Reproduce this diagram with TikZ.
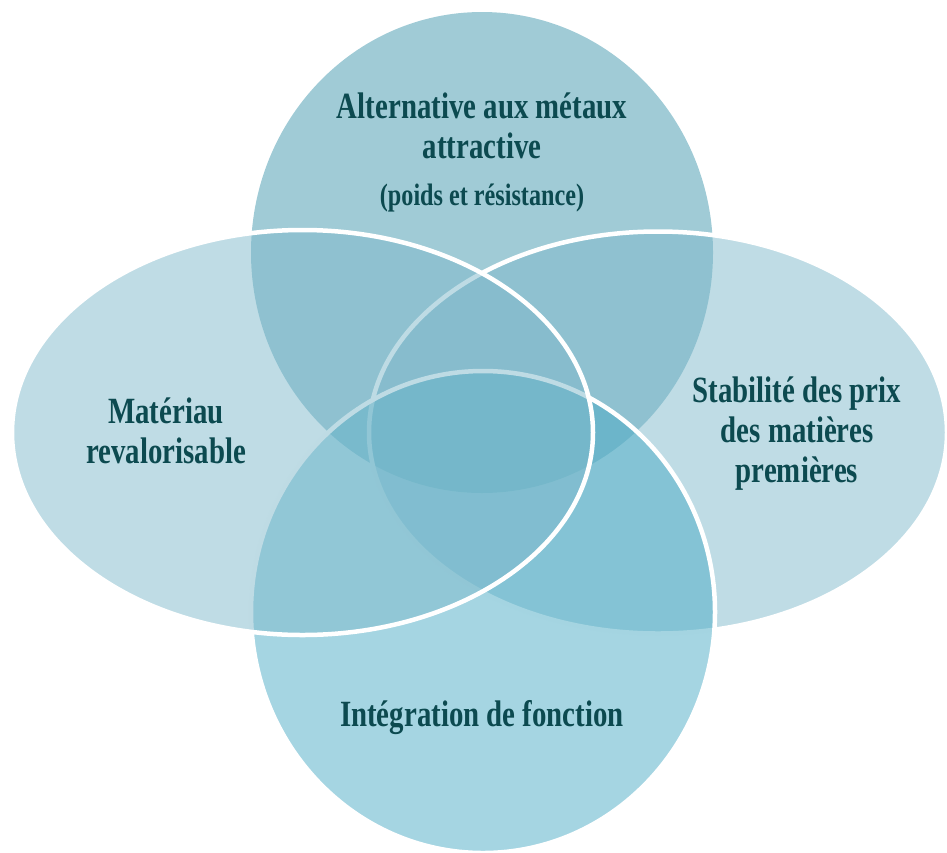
\documentclass[tikz,border=0pt]{standalone}
\usepackage{fontspec}
\setmainfont[FakeStretch=0.78]{Liberation Serif}
\usetikzlibrary{shapes.geometric}
\definecolor{ctop}{RGB}{65,151,173}
\definecolor{cside}{RGB}{127,185,203}
\definecolor{cbot}{RGB}{75,171,197}
\definecolor{txt}{RGB}{12,74,80}
\begin{document}
\begin{tikzpicture}[x=1pt,y=-1pt,
  venn/.style={ellipse, inner sep=0pt, outer sep=0pt, fill opacity=0.5, draw opacity=1},
  rim/.style={draw=white, line width=4.5pt},
  lbl/.style={font=\fontsize{37}{40}\selectfont\bfseries, text=txt, align=center, anchor=base, inner sep=0pt},
  sublbl/.style={font=\fontsize{31}{36}\selectfont\bfseries, text=txt, align=center, anchor=base, inner sep=0pt}]
\useasboundingbox (0,0) rectangle (947,852);
% shapes, in drawing order
\node[venn, fill=ctop, minimum width=462pt, minimum height=481pt] (ctopshape) at (482,252.5) {};
\node[venn, rim, fill=cside, minimum width=578pt, minimum height=402pt] (crightshape) at (658,432.5) {};
\node[venn, rim, fill=cbot, minimum width=464pt, minimum height=482pt] (cbotshape) at (483,612) {};
\node[venn, rim, fill=cside, minimum width=581pt, minimum height=405pt] (cleftshape) at (302.5,432.5) {};
% labels (base = baseline of the last line)
\node[lbl] (ttop) at (482,158) {Alternative aux métaux\\attractive};
\node[sublbl] (ttopsub) at (482,205) {(poids et résistance)};
\node[lbl] (tleft) at (166,463) {Matériau\\revalorisable};
\node[lbl] (tright) at (797,482) {Stabilité des prix\\des matières\\premières};
\node[lbl] (tbot) at (482,726) {Intégration de fonction};
\end{tikzpicture}
\end{document}
